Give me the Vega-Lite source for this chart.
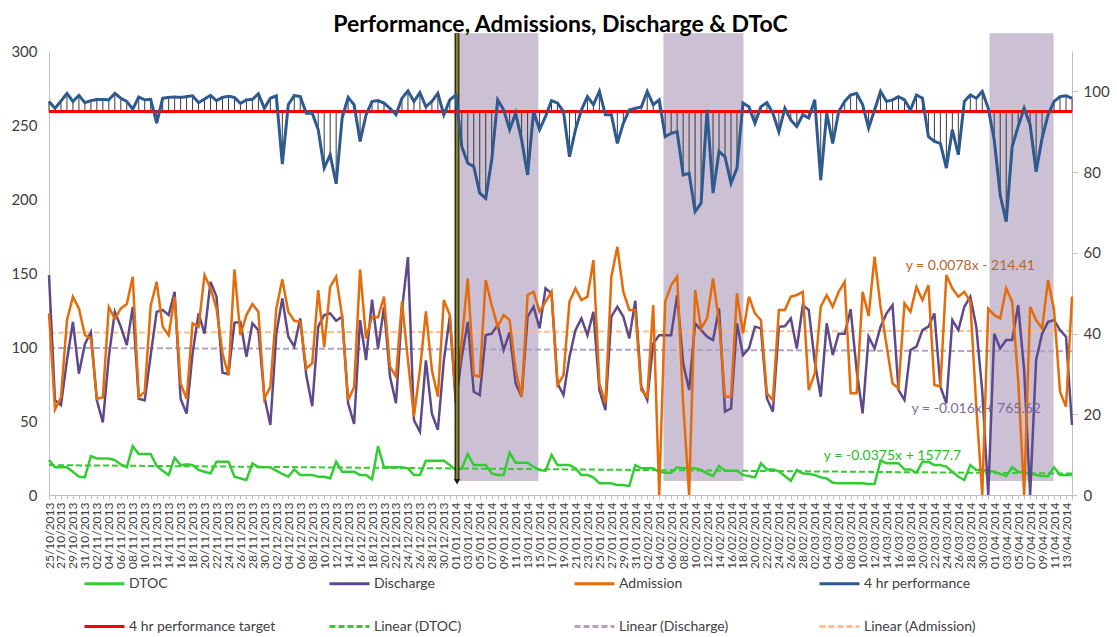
{
"$schema":"https://vega.github.io/schema/vega-lite/v6.json",
"width":1023,"height":444,
"autosize":{"type":"none"},
"padding":{"left":49,"top":51,"right":45,"bottom":142},
"background":"white",
"title":{"text":"Performance, Admissions, Discharge & DToC","font":"Lato","fontSize":23,"fontWeight":"bold","color":"#000000","anchor":"middle","offset":-6},
"config":{
 "view":{"stroke":null},
 "font":"Lato",
 "axis":{"grid":false,"labelFont":"Lato","labelColor":"#404040","domainColor":"#BFBFBF","tickColor":"#BFBFBF"},
 "legend":{"orient":"none","legendX":34,"legendY":511,"columns":4,"direction":"horizontal","symbolType":"stroke","symbolSize":1600,"symbolStrokeWidth":3,"labelFontSize":14,"labelFont":"Lato","labelColor":"#404040","labelOffset":3,"rowPadding":14,"columnPadding":47,"gridAlign":"all","padding":0,"labelLimit":400}
},
"datasets":{
"daily":[
{"date":"2013-10-25","DTOC":23.6,"Discharge":148.6,"Admission":122.7,"4 hr performance":97.5},
{"date":"2013-10-26","DTOC":18.7,"Discharge":64,"Admission":57.8,"4 hr performance":95.8},
{"date":"2013-10-27","DTOC":18.7,"Discharge":60.8,"Admission":66,"4 hr performance":97.6},
{"date":"2013-10-28","DTOC":18.7,"Discharge":91,"Admission":118,"4 hr performance":99.5},
{"date":"2013-10-29","DTOC":15.7,"Discharge":117,"Admission":134,"4 hr performance":97.5},
{"date":"2013-10-30","DTOC":12.4,"Discharge":82,"Admission":126,"4 hr performance":99},
{"date":"2013-10-31","DTOC":12,"Discharge":102,"Admission":108,"4 hr performance":97.2},
{"date":"2013-11-01","DTOC":26.3,"Discharge":110,"Admission":106,"4 hr performance":97.7},
{"date":"2013-11-02","DTOC":24.7,"Discharge":64,"Admission":65,"4 hr performance":98},
{"date":"2013-11-03","DTOC":24.7,"Discharge":49,"Admission":66,"4 hr performance":98},
{"date":"2013-11-04","DTOC":24.7,"Discharge":93.4,"Admission":127,"4 hr performance":97.9},
{"date":"2013-11-05","DTOC":23.6,"Discharge":123.8,"Admission":119,"4 hr performance":99.5},
{"date":"2013-11-06","DTOC":20.7,"Discharge":113.7,"Admission":126,"4 hr performance":98.3},
{"date":"2013-11-07","DTOC":18.7,"Discharge":101.3,"Admission":129,"4 hr performance":97.5},
{"date":"2013-11-08","DTOC":33,"Discharge":127,"Admission":147.5,"4 hr performance":95.6},
{"date":"2013-11-09","DTOC":27.7,"Discharge":65,"Admission":66,"4 hr performance":98.6},
{"date":"2013-11-10","DTOC":27.7,"Discharge":64,"Admission":69.8,"4 hr performance":97.9},
{"date":"2013-11-11","DTOC":27.7,"Discharge":94.5,"Admission":128,"4 hr performance":98},
{"date":"2013-11-12","DTOC":19.6,"Discharge":123.8,"Admission":144,"4 hr performance":92.1},
{"date":"2013-11-13","DTOC":16.4,"Discharge":125,"Admission":113.7,"4 hr performance":98.3},
{"date":"2013-11-14","DTOC":13.5,"Discharge":121.6,"Admission":108,"4 hr performance":98.5},
{"date":"2013-11-15","DTOC":25.2,"Discharge":137.3,"Admission":134,"4 hr performance":98.6},
{"date":"2013-11-16","DTOC":20.2,"Discharge":65,"Admission":75.4,"4 hr performance":98.5},
{"date":"2013-11-17","DTOC":20.7,"Discharge":55,"Admission":65,"4 hr performance":98.7},
{"date":"2013-11-18","DTOC":20.2,"Discharge":95.7,"Admission":116,"4 hr performance":98.9},
{"date":"2013-11-19","DTOC":16.9,"Discharge":122.7,"Admission":113.7,"4 hr performance":97.2},
{"date":"2013-11-20","DTOC":15.7,"Discharge":109,"Admission":148.6,"4 hr performance":98.1},
{"date":"2013-11-21","DTOC":14.6,"Discharge":144,"Admission":139.6,"4 hr performance":99},
{"date":"2013-11-22","DTOC":22.5,"Discharge":134,"Admission":126,"4 hr performance":97.7},
{"date":"2013-11-23","DTOC":22.5,"Discharge":82.6,"Admission":95.7,"4 hr performance":98.5},
{"date":"2013-11-24","DTOC":22.5,"Discharge":81.7,"Admission":81,"4 hr performance":98.8},
{"date":"2013-11-25","DTOC":12.4,"Discharge":116.4,"Admission":152.4,"4 hr performance":98.5},
{"date":"2013-11-26","DTOC":11.2,"Discharge":117,"Admission":108,"4 hr performance":97},
{"date":"2013-11-27","DTOC":10.1,"Discharge":93.4,"Admission":121.6,"4 hr performance":97.9},
{"date":"2013-11-28","DTOC":21.4,"Discharge":116,"Admission":129,"4 hr performance":98},
{"date":"2013-11-29","DTOC":18.7,"Discharge":111.4,"Admission":123.8,"4 hr performance":99.4},
{"date":"2013-11-30","DTOC":18.7,"Discharge":66.4,"Admission":65,"4 hr performance":95.8},
{"date":"2013-12-01","DTOC":18.7,"Discharge":47.3,"Admission":73,"4 hr performance":98.3},
{"date":"2013-12-02","DTOC":16.4,"Discharge":109,"Admission":126,"4 hr performance":98.9},
{"date":"2013-12-03","DTOC":14.2,"Discharge":132.8,"Admission":145.7,"4 hr performance":82},
{"date":"2013-12-04","DTOC":12.4,"Discharge":107,"Admission":123.8,"4 hr performance":96.7},
{"date":"2013-12-05","DTOC":17.3,"Discharge":100.2,"Admission":117.7,"4 hr performance":99},
{"date":"2013-12-06","DTOC":13.5,"Discharge":119.3,"Admission":117,"4 hr performance":98.7},
{"date":"2013-12-07","DTOC":13.5,"Discharge":81,"Admission":85.5,"4 hr performance":94.6},
{"date":"2013-12-08","DTOC":13.5,"Discharge":60,"Admission":89,"4 hr performance":94.6},
{"date":"2013-12-09","DTOC":12.4,"Discharge":113.7,"Admission":138.5,"4 hr performance":90.5},
{"date":"2013-12-10","DTOC":12.4,"Discharge":121.6,"Admission":100,"4 hr performance":81},
{"date":"2013-12-11","DTOC":11.2,"Discharge":122.7,"Admission":140.7,"4 hr performance":84.3},
{"date":"2013-12-12","DTOC":22.5,"Discharge":117.7,"Admission":147.5,"4 hr performance":77.1},
{"date":"2013-12-13","DTOC":15.7,"Discharge":120.5,"Admission":120.5,"4 hr performance":93.4},
{"date":"2013-12-14","DTOC":15.7,"Discharge":62,"Admission":64,"4 hr performance":98.5},
{"date":"2013-12-15","DTOC":15.7,"Discharge":48,"Admission":73,"4 hr performance":96.7},
{"date":"2013-12-16","DTOC":13.5,"Discharge":118.2,"Admission":152.4,"4 hr performance":87.6},
{"date":"2013-12-17","DTOC":13.5,"Discharge":91.2,"Admission":105.8,"4 hr performance":94.2},
{"date":"2013-12-18","DTOC":10.6,"Discharge":132,"Admission":120.5,"4 hr performance":97.5},
{"date":"2013-12-19","DTOC":33,"Discharge":99,"Admission":120,"4 hr performance":97.7},
{"date":"2013-12-20","DTOC":18.7,"Discharge":126.8,"Admission":134,"4 hr performance":97.1},
{"date":"2013-12-21","DTOC":18.7,"Discharge":80,"Admission":86.7,"4 hr performance":95.8},
{"date":"2013-12-22","DTOC":18.7,"Discharge":62,"Admission":80,"4 hr performance":94.2},
{"date":"2013-12-23","DTOC":18.7,"Discharge":125,"Admission":130.6,"4 hr performance":98.3},
{"date":"2013-12-24","DTOC":18,"Discharge":160.8,"Admission":91,"4 hr performance":100.1},
{"date":"2013-12-25","DTOC":13.5,"Discharge":50.6,"Admission":53,"4 hr performance":97.5},
{"date":"2013-12-26","DTOC":13.5,"Discharge":42.7,"Admission":84.4,"4 hr performance":99.7},
{"date":"2013-12-27","DTOC":23.2,"Discharge":91,"Admission":124,"4 hr performance":96.2},
{"date":"2013-12-28","DTOC":23.2,"Discharge":55,"Admission":84.4,"4 hr performance":97.5},
{"date":"2013-12-29","DTOC":23.2,"Discharge":44,"Admission":66.4,"4 hr performance":99.5},
{"date":"2013-12-30","DTOC":23.2,"Discharge":91,"Admission":131.7,"4 hr performance":94.2},
{"date":"2013-12-31","DTOC":20.2,"Discharge":120.5,"Admission":121.6,"4 hr performance":97.9},
{"date":"2014-01-01","DTOC":16.9,"Discharge":62,"Admission":65.3,"4 hr performance":99.1},
{"date":"2014-01-02","DTOC":18,"Discharge":93.4,"Admission":104.7,"4 hr performance":86.3},
{"date":"2014-01-03","DTOC":27.7,"Discharge":117,"Admission":146.3,"4 hr performance":82.2},
{"date":"2014-01-04","DTOC":20.2,"Discharge":69.8,"Admission":81,"4 hr performance":81.4},
{"date":"2014-01-05","DTOC":20.2,"Discharge":67.5,"Admission":79.9,"4 hr performance":74.8},
{"date":"2014-01-06","DTOC":20.2,"Discharge":108,"Admission":145.2,"4 hr performance":73.5},
{"date":"2014-01-07","DTOC":14.6,"Discharge":109,"Admission":128.3,"4 hr performance":83},
{"date":"2014-01-08","DTOC":13.5,"Discharge":114.8,"Admission":113.7,"4 hr performance":97.9},
{"date":"2014-01-09","DTOC":13.5,"Discharge":98,"Admission":121.6,"4 hr performance":95.4},
{"date":"2014-01-10","DTOC":28.6,"Discharge":110,"Admission":118.2,"4 hr performance":90.5},
{"date":"2014-01-11","DTOC":21.8,"Discharge":75.4,"Admission":84.4,"4 hr performance":94.6},
{"date":"2014-01-12","DTOC":21.8,"Discharge":66.4,"Admission":66.4,"4 hr performance":88},
{"date":"2014-01-13","DTOC":21.8,"Discharge":120.5,"Admission":135.1,"4 hr performance":79.3},
{"date":"2014-01-14","DTOC":19.1,"Discharge":127.2,"Admission":137.3,"4 hr performance":95},
{"date":"2014-01-15","DTOC":16.9,"Discharge":112.6,"Admission":123.8,"4 hr performance":90.5},
{"date":"2014-01-16","DTOC":16.4,"Discharge":139.6,"Admission":130.6,"4 hr performance":93.8},
{"date":"2014-01-17","DTOC":27,"Discharge":136.2,"Admission":137.3,"4 hr performance":97.7},
{"date":"2014-01-18","DTOC":20.2,"Discharge":75.4,"Admission":74.3,"4 hr performance":97.1},
{"date":"2014-01-19","DTOC":20.2,"Discharge":67.5,"Admission":81,"4 hr performance":95},
{"date":"2014-01-20","DTOC":20.2,"Discharge":93.4,"Admission":130.6,"4 hr performance":83.8},
{"date":"2014-01-21","DTOC":18,"Discharge":111.4,"Admission":139.6,"4 hr performance":90.5},
{"date":"2014-01-22","DTOC":13.5,"Discharge":119.3,"Admission":131.7,"4 hr performance":95.4},
{"date":"2014-01-23","DTOC":13.5,"Discharge":108,"Admission":134,"4 hr performance":98.7},
{"date":"2014-01-24","DTOC":11.9,"Discharge":123.8,"Admission":158.7,"4 hr performance":96.7},
{"date":"2014-01-25","DTOC":7.9,"Discharge":70.9,"Admission":75.4,"4 hr performance":100},
{"date":"2014-01-26","DTOC":7.9,"Discharge":57.4,"Admission":61.9,"4 hr performance":94.2},
{"date":"2014-01-27","DTOC":7.9,"Discharge":120.5,"Admission":147.5,"4 hr performance":94.2},
{"date":"2014-01-28","DTOC":6.7,"Discharge":127.2,"Admission":167.7,"4 hr performance":87.1},
{"date":"2014-01-29","DTOC":6.7,"Discharge":120.5,"Admission":137.3,"4 hr performance":92.1},
{"date":"2014-01-30","DTOC":6.1,"Discharge":105.8,"Admission":125,"4 hr performance":95.4},
{"date":"2014-01-31","DTOC":20.2,"Discharge":131.3,"Admission":125,"4 hr performance":95.8},
{"date":"2014-02-01","DTOC":18,"Discharge":73.2,"Admission":70.9,"4 hr performance":96.1},
{"date":"2014-02-02","DTOC":18,"Discharge":64.2,"Admission":66.4,"4 hr performance":100},
{"date":"2014-02-03","DTOC":18,"Discharge":102.4,"Admission":128.3,"4 hr performance":96.7},
{"date":"2014-02-04","DTOC":15.7,"Discharge":108,"Admission":0,"4 hr performance":97.9},
{"date":"2014-02-05","DTOC":15,"Discharge":108,"Admission":130.6,"4 hr performance":88.8},
{"date":"2014-02-06","DTOC":15,"Discharge":108,"Admission":141.8,"4 hr performance":89.6},
{"date":"2014-02-07","DTOC":18.7,"Discharge":135,"Admission":147.5,"4 hr performance":90},
{"date":"2014-02-08","DTOC":18,"Discharge":89,"Admission":62,"4 hr performance":79.3},
{"date":"2014-02-09","DTOC":18,"Discharge":71,"Admission":0,"4 hr performance":79.7},
{"date":"2014-02-10","DTOC":18,"Discharge":116,"Admission":138.5,"4 hr performance":70.2},
{"date":"2014-02-11","DTOC":16.9,"Discharge":111.4,"Admission":112.6,"4 hr performance":72.3},
{"date":"2014-02-12","DTOC":14.6,"Discharge":107,"Admission":119.3,"4 hr performance":95.4},
{"date":"2014-02-13","DTOC":12.8,"Discharge":104.7,"Admission":146.3,"4 hr performance":74.8},
{"date":"2014-02-14","DTOC":19.6,"Discharge":126,"Admission":117.1,"4 hr performance":85.1},
{"date":"2014-02-15","DTOC":16.4,"Discharge":56.3,"Admission":66.4,"4 hr performance":83.8},
{"date":"2014-02-16","DTOC":16.4,"Discharge":58.5,"Admission":66.4,"4 hr performance":77.2},
{"date":"2014-02-17","DTOC":16.4,"Discharge":116,"Admission":136.2,"4 hr performance":81},
{"date":"2014-02-18","DTOC":13.5,"Discharge":94.5,"Admission":109.2,"4 hr performance":97.1},
{"date":"2014-02-19","DTOC":12.8,"Discharge":99,"Admission":134,"4 hr performance":96.2},
{"date":"2014-02-20","DTOC":11.9,"Discharge":113.7,"Admission":122.7,"4 hr performance":92.1},
{"date":"2014-02-21","DTOC":21.4,"Discharge":112.6,"Admission":118.2,"4 hr performance":96.2},
{"date":"2014-02-22","DTOC":17.3,"Discharge":65.3,"Admission":68.7,"4 hr performance":97.2},
{"date":"2014-02-23","DTOC":17.3,"Discharge":56.3,"Admission":64.2,"4 hr performance":94.6},
{"date":"2014-02-24","DTOC":16,"Discharge":113.7,"Admission":125,"4 hr performance":90},
{"date":"2014-02-25","DTOC":12.8,"Discharge":114,"Admission":125,"4 hr performance":95.8},
{"date":"2014-02-26","DTOC":9.6,"Discharge":119.3,"Admission":134,"4 hr performance":92.9},
{"date":"2014-02-27","DTOC":16.9,"Discharge":99,"Admission":135.1,"4 hr performance":91.3},
{"date":"2014-02-28","DTOC":14.6,"Discharge":128.3,"Admission":137.3,"4 hr performance":94.2},
{"date":"2014-03-01","DTOC":14.2,"Discharge":125,"Admission":70.9,"4 hr performance":93.4},
{"date":"2014-03-02","DTOC":13.5,"Discharge":90,"Admission":82.2,"4 hr performance":97.9},
{"date":"2014-03-03","DTOC":11.9,"Discharge":66.4,"Admission":127.2,"4 hr performance":78},
{"date":"2014-03-04","DTOC":11.2,"Discharge":116,"Admission":135,"4 hr performance":94.6},
{"date":"2014-03-05","DTOC":8.3,"Discharge":94.5,"Admission":127.2,"4 hr performance":87.1},
{"date":"2014-03-06","DTOC":7.9,"Discharge":109,"Admission":137.3,"4 hr performance":95},
{"date":"2014-03-07","DTOC":7.9,"Discharge":109,"Admission":144,"4 hr performance":97.5},
{"date":"2014-03-08","DTOC":7.9,"Discharge":125.4,"Admission":68.7,"4 hr performance":99.1},
{"date":"2014-03-09","DTOC":7.9,"Discharge":84.4,"Admission":68.7,"4 hr performance":99.5},
{"date":"2014-03-10","DTOC":7.9,"Discharge":55.1,"Admission":137.3,"4 hr performance":96.7},
{"date":"2014-03-11","DTOC":7.4,"Discharge":107,"Admission":120.9,"4 hr performance":90.9},
{"date":"2014-03-12","DTOC":7.4,"Discharge":99,"Admission":161,"4 hr performance":95.4},
{"date":"2014-03-13","DTOC":23.2,"Discharge":113.7,"Admission":127.2,"4 hr performance":100},
{"date":"2014-03-14","DTOC":21.4,"Discharge":122.7,"Admission":101.3,"4 hr performance":97.5},
{"date":"2014-03-15","DTOC":21.4,"Discharge":128.3,"Admission":75.4,"4 hr performance":97.9},
{"date":"2014-03-16","DTOC":21.4,"Discharge":70.9,"Admission":72,"4 hr performance":98.7},
{"date":"2014-03-17","DTOC":17.3,"Discharge":64.2,"Admission":129.5,"4 hr performance":97.9},
{"date":"2014-03-18","DTOC":17.3,"Discharge":98,"Admission":123.8,"4 hr performance":95.4},
{"date":"2014-03-19","DTOC":15,"Discharge":100.2,"Admission":140.7,"4 hr performance":99.1},
{"date":"2014-03-20","DTOC":22.5,"Discharge":111.4,"Admission":131.7,"4 hr performance":98.3},
{"date":"2014-03-21","DTOC":22.5,"Discharge":113.7,"Admission":141.8,"4 hr performance":88.8},
{"date":"2014-03-22","DTOC":20.2,"Discharge":122.7,"Admission":74.3,"4 hr performance":87.6},
{"date":"2014-03-23","DTOC":20.2,"Discharge":73.2,"Admission":73.2,"4 hr performance":87.1},
{"date":"2014-03-24","DTOC":19.1,"Discharge":61.9,"Admission":148.6,"4 hr performance":81},
{"date":"2014-03-25","DTOC":15.7,"Discharge":118.2,"Admission":139.6,"4 hr performance":90.5},
{"date":"2014-03-26","DTOC":12.4,"Discharge":111.4,"Admission":134,"4 hr performance":84.3},
{"date":"2014-03-27","DTOC":10.1,"Discharge":127.2,"Admission":137.3,"4 hr performance":97.5},
{"date":"2014-03-28","DTOC":20.2,"Discharge":134,"Admission":130.6,"4 hr performance":99.1},
{"date":"2014-03-29","DTOC":16.9,"Discharge":113.7,"Admission":59.6,"4 hr performance":98.3},
{"date":"2014-03-30","DTOC":16.9,"Discharge":70,"Admission":0,"4 hr performance":100},
{"date":"2014-03-31","DTOC":16.4,"Discharge":0,"Admission":126,"4 hr performance":95.8},
{"date":"2014-04-01","DTOC":15.7,"Discharge":109,"Admission":121.6,"4 hr performance":88},
{"date":"2014-04-02","DTOC":14.2,"Discharge":99,"Admission":119.3,"4 hr performance":74.3},
{"date":"2014-04-03","DTOC":12.8,"Discharge":104.7,"Admission":139.6,"4 hr performance":67.7},
{"date":"2014-04-04","DTOC":18.7,"Discharge":104.7,"Admission":130.6,"4 hr performance":86.3},
{"date":"2014-04-05","DTOC":15.7,"Discharge":128.3,"Admission":77.6,"4 hr performance":91.3},
{"date":"2014-04-06","DTOC":15,"Discharge":84.4,"Admission":0,"4 hr performance":95.8},
{"date":"2014-04-07","DTOC":14.6,"Discharge":0,"Admission":127.2,"4 hr performance":91.7},
{"date":"2014-04-08","DTOC":13.5,"Discharge":91.2,"Admission":118.2,"4 hr performance":80.1},
{"date":"2014-04-09","DTOC":12.8,"Discharge":109,"Admission":112.6,"4 hr performance":88.4},
{"date":"2014-04-10","DTOC":12.8,"Discharge":117,"Admission":145.2,"4 hr performance":94.2},
{"date":"2014-04-11","DTOC":18.7,"Discharge":118.2,"Admission":125,"4 hr performance":97.5},
{"date":"2014-04-12","DTOC":13.5,"Discharge":111.4,"Admission":69.8,"4 hr performance":98.7},
{"date":"2014-04-13","DTOC":13.5,"Discharge":107,"Admission":59.6,"4 hr performance":98.9},
{"date":"2014-04-14","DTOC":13.5,"Discharge":47.3,"Admission":134,"4 hr performance":98.3}
],
"trend":[
{"date":"2013-10-25","series":"Linear (DTOC)","value":20.2},
{"date":"2014-04-14","series":"Linear (DTOC)","value":14.5},
{"date":"2013-10-25","series":"Linear (Discharge)","value":99.4},
{"date":"2014-04-14","series":"Linear (Discharge)","value":97.1},
{"date":"2013-10-25","series":"Linear (Admission)","value":109.7},
{"date":"2014-04-14","series":"Linear (Admission)","value":111}
],
"target":[
{"date":"2013-10-25","series":"4 hr performance target","value":95},
{"date":"2014-04-14","series":"4 hr performance target","value":95}
],
"shade":[
{"start":"2014-01-01T17:00:00Z","end":"2014-01-14T19:00:00Z"},
{"start":"2014-02-04T17:00:00Z","end":"2014-02-18T02:00:00Z"},
{"start":"2014-03-31T05:00:00Z","end":"2014-04-10T22:00:00Z"}
],
"marker":[{"date":"2014-01-01T05:00:00Z"}]
},
"layer":[
{"layer":[
 {"data":{"name":"shade"},"mark":{"type":"rect","color":"#CBC0D4"},
  "encoding":{
   "x":{"field":"start","type":"temporal","title":null,
        "scale":{"type":"utc","domain":[{"year":2013,"month":10,"date":25,"utc":true},{"year":2014,"month":4,"date":14,"utc":true}]},
        "axis":{"tickCount":{"interval":"day","step":1},"labelExpr":"(round((datum.value - utc(2013,9,25)) / 86400000) % 2 == 0) ? utcFormat(datum.value, '%d/%m/%Y') : ''","labelAngle":-90,"labelFontSize":12,"labelOverlap":false,"labelBound":false,"labelFlush":false,"tickSize":4,"labelPadding":3,"grid":false}},
   "x2":{"field":"end"},
   "y":{"datum":312,"type":"quantitative","title":null,"scale":{"domain":[0,300],"nice":false}},
   "y2":{"datum":9.5}}},
 {"data":{"name":"trend"},"mark":{"type":"line","strokeWidth":2},
  "encoding":{
   "x":{"field":"date","type":"temporal","title":null},
   "y":{"field":"value","type":"quantitative","title":null,"scale":{"domain":[0,300],"nice":false}},
   "color":{"field":"series","type":"nominal","scale":{"domain":["DTOC","Discharge","Admission","4 hr performance","4 hr performance target","Linear (DTOC)","Linear (Discharge)","Linear (Admission)"],"range":["#33CC33","#5E4A8B","#E46C0A","#2E5A8F","#FF0000","#33CC33","#B3A2C7","#FAC090"]},"legend":{"title":null}},
   "strokeDash":{"field":"series","type":"nominal","scale":{"domain":["DTOC","Discharge","Admission","4 hr performance","4 hr performance target","Linear (DTOC)","Linear (Discharge)","Linear (Admission)"],"range":[[1,0],[1,0],[1,0],[1,0],[1,0],[6,3],[6,3],[6,3]]},"legend":{"title":null}}}},
 {"data":{"name":"daily"},"transform":[{"fold":["DTOC","Discharge","Admission"],"as":["series","value"]}],
  "mark":{"type":"line","strokeWidth":2.5},
  "encoding":{
   "x":{"field":"date","type":"temporal","title":null},
   "y":{"field":"value","type":"quantitative","title":null,"scale":{"domain":[0,300],"nice":false},
        "axis":{"orient":"left","values":[0,50,100,150,200,250,300],"labelFontSize":15,"ticks":false,"labelPadding":12,"grid":false}},
   "color":{"field":"series","type":"nominal","scale":{"domain":["DTOC","Discharge","Admission","4 hr performance","4 hr performance target","Linear (DTOC)","Linear (Discharge)","Linear (Admission)"],"range":["#33CC33","#5E4A8B","#E46C0A","#2E5A8F","#FF0000","#33CC33","#B3A2C7","#FAC090"]},"legend":{"title":null}},
   "strokeDash":{"field":"series","type":"nominal","scale":{"domain":["DTOC","Discharge","Admission","4 hr performance","4 hr performance target","Linear (DTOC)","Linear (Discharge)","Linear (Admission)"],"range":[[1,0],[1,0],[1,0],[1,0],[1,0],[6,3],[6,3],[6,3]]},"legend":{"title":null}}}},
 {"data":{"name":"marker"},"mark":{"type":"rule","color":"#1A1A1A","strokeWidth":5},
  "encoding":{"x":{"field":"date","type":"temporal","title":null},"y":{"datum":312,"type":"quantitative"},"y2":{"datum":10}}},
 {"data":{"name":"marker"},"mark":{"type":"rule","color":"#8C8226","strokeWidth":2.5},
  "encoding":{"x":{"field":"date","type":"temporal","title":null},"y":{"datum":311.5,"type":"quantitative"},"y2":{"datum":10.5}}},
 {"data":{"name":"marker"},"mark":{"type":"point","shape":"triangle-down","filled":true,"color":"#1A1A1A","size":40,"opacity":1},
  "encoding":{"x":{"field":"date","type":"temporal","title":null},"y":{"datum":9,"type":"quantitative"}}},
 {"data":{"values":[{"date":"2014-03-28","value":155,"label":"y = 0.0078x - 214.41"}]},
  "mark":{"type":"text","font":"Lato","fontSize":14,"color":"#B8652E"},
  "encoding":{"x":{"field":"date","type":"temporal","title":null},"y":{"field":"value","type":"quantitative"},"text":{"field":"label"}}},
 {"data":{"values":[{"date":"2014-03-29","value":58,"label":"y = -0.016x + 765.62"}]},
  "mark":{"type":"text","font":"Lato","fontSize":14,"color":"#7F6A9E"},
  "encoding":{"x":{"field":"date","type":"temporal","title":null},"y":{"field":"value","type":"quantitative"},"text":{"field":"label"}}},
 {"data":{"values":[{"date":"2014-03-15","value":26.4,"label":"y = -0.0375x + 1577.7"}]},
  "mark":{"type":"text","font":"Lato","fontSize":14,"color":"#2EB82E"},
  "encoding":{"x":{"field":"date","type":"temporal","title":null},"y":{"field":"value","type":"quantitative"},"text":{"field":"label"}}}
]},
{"layer":[
 {"data":{"name":"daily"},"mark":{"type":"rule","color":"#3A3A3A","strokeWidth":1},
  "encoding":{
   "x":{"field":"date","type":"temporal","title":null},
   "y":{"field":"4 hr performance","type":"quantitative","title":null,"scale":{"domain":[0,110],"nice":false},
        "axis":{"orient":"right","values":[0,20,40,60,80,100],"labelFontSize":15,"tickSize":5,"labelPadding":6,"grid":false}},
   "y2":{"datum":95}}},
 {"data":{"name":"target"},"mark":{"type":"line","strokeWidth":3},
  "encoding":{
   "x":{"field":"date","type":"temporal","title":null},
   "y":{"field":"value","type":"quantitative","title":null},
   "color":{"field":"series","type":"nominal","scale":{"domain":["DTOC","Discharge","Admission","4 hr performance","4 hr performance target","Linear (DTOC)","Linear (Discharge)","Linear (Admission)"],"range":["#33CC33","#5E4A8B","#E46C0A","#2E5A8F","#FF0000","#33CC33","#B3A2C7","#FAC090"]},"legend":{"title":null}},
   "strokeDash":{"field":"series","type":"nominal","scale":{"domain":["DTOC","Discharge","Admission","4 hr performance","4 hr performance target","Linear (DTOC)","Linear (Discharge)","Linear (Admission)"],"range":[[1,0],[1,0],[1,0],[1,0],[1,0],[6,3],[6,3],[6,3]]},"legend":{"title":null}}}},
 {"data":{"name":"daily"},"transform":[{"fold":["4 hr performance"],"as":["series","value"]}],
  "mark":{"type":"line","strokeWidth":3},
  "encoding":{
   "x":{"field":"date","type":"temporal","title":null},
   "y":{"field":"value","type":"quantitative","title":null},
   "color":{"field":"series","type":"nominal","scale":{"domain":["DTOC","Discharge","Admission","4 hr performance","4 hr performance target","Linear (DTOC)","Linear (Discharge)","Linear (Admission)"],"range":["#33CC33","#5E4A8B","#E46C0A","#2E5A8F","#FF0000","#33CC33","#B3A2C7","#FAC090"]},"legend":{"title":null}},
   "strokeDash":{"field":"series","type":"nominal","scale":{"domain":["DTOC","Discharge","Admission","4 hr performance","4 hr performance target","Linear (DTOC)","Linear (Discharge)","Linear (Admission)"],"range":[[1,0],[1,0],[1,0],[1,0],[1,0],[6,3],[6,3],[6,3]]},"legend":{"title":null}}}}
]}
],
"resolve":{"scale":{"y":"independent"}}
}
